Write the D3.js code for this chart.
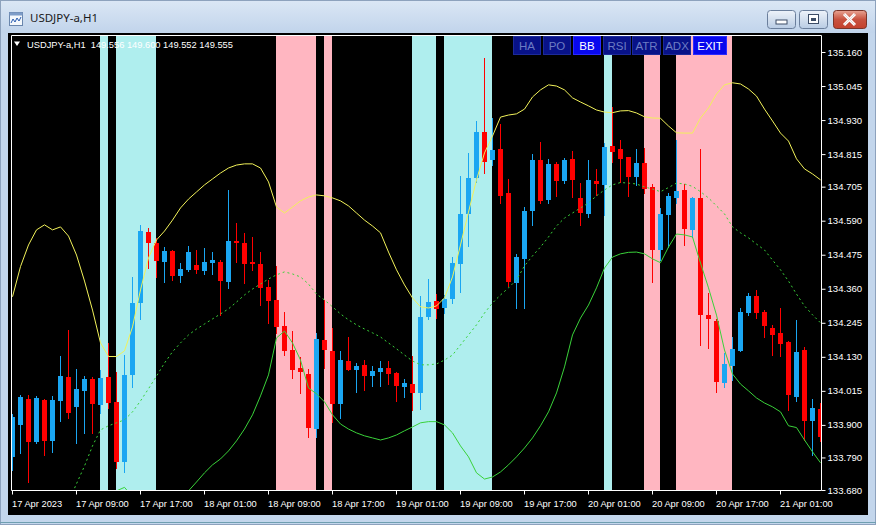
<!DOCTYPE html>
<html><head><meta charset="utf-8">
<script src="https://cdn.jsdelivr.net/npm/d3@7"></script>
<style>html,body{margin:0;padding:0;background:#c3d6ec;overflow:hidden}svg{display:block}</style>
</head><body>
<svg id="c" width="876" height="525"></svg>
<script>
// ---------------- DATA ----------------
const windowTitle = "USDJPY-a,H1";
const headerText = "USDJPY-a,H1  149.556 149.600 149.552 149.555";
const buttonLabels = ["HA","PO","BB","RSI","ATR","ADX","EXIT"];
const activeButtons = ["BB","EXIT"];

const openP = [133.793,133.900,133.988,133.843,133.984,133.847,133.982,134.061,133.960,134.016,
134.055,133.967,134.061,133.979,133.776,134.069,134.313,134.552,134.514,134.452,
134.488,134.403,134.424,134.440,134.420,134.448,134.452,134.384,134.521,134.516,
134.450,134.444,134.365,134.322,134.234,134.153,134.091,134.072,133.885,134.187,
134.150,133.971,134.116,134.086,134.103,134.065,134.078,134.091,134.077,134.027,
134.038,134.009,134.264,134.319,134.294,134.325,134.443,134.613,134.735,134.890,
134.795,134.832,134.683,134.381,134.461,134.623,134.795,134.660,134.782,134.725,
134.799,134.666,134.613,134.724,134.711,134.842,134.832,134.804,134.739,134.784,
134.703,134.491,134.609,134.668,134.694,134.559,134.668,134.271,134.252,134.043,
134.100,134.151,134.279,134.336,134.281,134.227,134.210,134.180,133.995,134.153,
133.914,133.953];
const highP = [133.937,134.001,134.001,133.998,133.988,133.998,134.133,134.221,134.088,134.065,
134.063,134.086,134.178,134.080,134.136,134.401,134.576,134.564,134.531,134.502,
134.491,134.446,134.505,134.491,134.497,134.485,134.457,134.694,134.581,134.548,
134.536,134.485,134.390,134.437,134.283,134.217,134.131,134.088,134.210,134.322,
134.227,134.151,134.198,134.110,134.119,134.099,134.116,134.116,134.080,134.055,
134.133,134.336,134.393,134.342,134.339,134.466,134.741,134.818,134.927,135.139,
134.936,134.916,134.730,134.478,134.637,134.814,134.856,134.799,134.788,134.801,
134.826,134.716,134.795,134.764,134.852,134.975,134.863,134.806,134.832,134.834,
134.714,134.632,134.683,134.863,134.714,134.671,134.832,134.345,134.257,134.144,
134.198,134.294,134.345,134.356,134.288,134.238,134.294,134.183,134.255,134.164,
133.987,133.973];
const lowP = [133.748,133.805,133.708,133.839,133.799,133.809,133.914,133.923,133.840,133.872,
133.872,133.939,133.956,133.754,133.742,134.029,134.257,134.429,134.399,134.384,
134.390,134.384,134.420,134.412,134.410,134.410,134.271,134.362,134.452,134.379,
134.424,134.305,134.245,134.210,134.136,134.058,134.007,133.858,133.858,134.091,
133.911,133.923,134.084,134.012,134.018,134.032,134.033,134.038,133.981,133.995,
133.951,133.954,134.258,134.262,134.279,134.311,134.350,134.506,134.721,134.750,
134.778,134.651,134.369,134.294,134.294,134.576,134.650,134.649,134.675,134.716,
134.671,134.576,134.604,134.677,134.609,134.789,134.722,134.675,134.711,134.683,
134.384,134.457,134.502,134.649,134.508,134.536,134.170,134.159,134.012,134.029,
134.050,134.149,134.271,134.260,134.198,134.136,134.133,133.951,133.982,133.849,
133.799,133.845];
const closeP = [133.928,133.993,133.843,133.990,133.847,133.984,134.065,133.941,134.020,134.055,
133.971,134.058,133.975,133.776,134.069,134.311,134.555,134.514,134.455,134.488,
134.403,134.426,134.484,134.424,134.452,134.457,134.386,134.521,134.514,134.444,
134.443,134.362,134.320,134.232,134.148,134.086,134.080,133.889,134.189,134.153,
133.971,134.119,134.086,134.100,134.065,134.082,134.093,134.072,134.032,134.043,
134.009,134.264,134.316,134.291,134.326,134.446,134.613,134.733,134.890,134.789,
134.829,134.675,134.384,134.466,134.624,134.795,134.657,134.782,134.725,134.795,
134.728,134.617,134.728,134.714,134.840,134.823,134.799,134.739,134.784,134.697,
134.491,134.613,134.674,134.690,134.562,134.668,134.271,134.258,134.046,134.106,
134.157,134.281,134.336,134.279,134.234,134.204,134.174,134.001,134.146,133.914,
133.956,133.860];

const bbUpper = [134.333,134.435,134.508,134.559,134.576,134.559,134.569,134.538,134.474,134.386,
134.288,134.177,134.131,134.131,134.150,134.231,134.356,134.464,134.525,134.555,
134.592,134.633,134.663,134.687,134.711,134.731,134.751,134.768,134.778,134.782,
134.782,134.768,134.721,134.636,134.616,134.636,134.657,134.670,134.677,134.674,
134.667,134.657,134.640,134.616,134.592,134.572,134.549,134.484,134.424,134.373,
134.329,134.299,134.295,134.302,134.329,134.400,134.508,134.619,134.728,134.819,
134.876,134.940,134.947,134.951,134.967,135.008,135.032,135.049,135.045,135.032,
135.005,134.991,134.978,134.964,134.957,134.955,134.961,134.962,134.954,134.941,
134.937,134.936,134.910,134.887,134.886,134.886,134.937,134.971,135.018,135.049,
135.056,135.052,135.035,135.011,134.967,134.927,134.886,134.859,134.799,134.765,
134.748,134.728];
const bbMiddle = [null,null,null,null,null,null,null,133.640,133.701,133.761,
133.829,133.883,133.897,133.907,133.917,133.944,133.981,134.022,134.065,134.109,
134.147,134.177,134.204,134.224,134.241,134.258,134.275,134.292,134.315,134.339,
134.359,134.376,134.393,134.407,134.417,134.410,134.400,134.376,134.342,134.322,
134.299,134.275,134.255,134.238,134.224,134.211,134.197,134.177,134.157,134.136,
134.116,134.103,134.103,134.106,134.119,134.136,134.170,134.204,134.238,134.278,
134.312,134.339,134.363,134.390,134.437,134.471,134.501,134.535,134.572,134.599,
134.616,134.633,134.650,134.674,134.694,134.711,134.719,134.717,134.714,134.704,
134.697,134.688,134.702,134.717,134.714,134.706,134.688,134.667,134.640,134.613,
134.569,134.549,134.532,134.511,134.491,134.457,134.424,134.386,134.342,134.302,
134.272,134.245];
const bbLower = [null,null,null,null,null,null,null,null,null,null,
null,null,133.677,133.677,133.689,133.657,133.606,133.586,133.606,133.647,
133.670,133.667,133.677,133.707,133.738,133.765,133.785,133.812,133.846,133.886,
133.934,133.998,134.069,134.194,134.217,134.177,134.119,134.025,134.005,133.978,
133.934,133.903,133.886,133.873,133.863,133.856,133.849,133.856,133.866,133.880,
133.893,133.907,133.911,133.911,133.900,133.873,133.829,133.792,133.738,133.717,
133.724,133.741,133.765,133.792,133.822,133.856,133.897,133.944,134.008,134.096,
134.204,134.261,134.305,134.363,134.430,134.467,134.478,134.483,134.484,134.478,
134.461,134.448,134.501,134.545,134.542,134.535,134.447,134.363,134.271,134.153,
134.072,134.038,134.015,133.991,133.974,133.961,133.944,133.897,133.891,133.849,
133.809,133.772];

const timeLabels = ["17 Apr 2023","17 Apr 09:00","17 Apr 17:00","18 Apr 01:00","18 Apr 09:00",
"18 Apr 17:00","19 Apr 01:00","19 Apr 09:00","19 Apr 17:00","20 Apr 01:00","20 Apr 09:00",
"20 Apr 17:00","21 Apr 01:00"];
const timeLabelBars = [0,8,16,24,32,40,48,56,64,72,80,88,96];
const priceTicks = [135.160,135.045,134.930,134.815,134.705,134.590,134.475,134.360,134.245,134.130,134.015,133.900,133.790,133.680];

const cyanBands = [[11,12],[13,18],[50,53],[54,60],[74,75]];
const pinkBands = [[33,38],[39,40],[79,81],[83,90]];

// ---------------- DRAW ----------------
const svg = d3.select("#c");
const W = 876, H = 525;
const FONT = "'Liberation Sans', Arial, sans-serif";
const plot = {l:11.5, t:35.5, r:821.5, b:490.5};

const defs = svg.append("defs");
const tg = defs.append("linearGradient").attr("id","tbar").attr("x1",0).attr("y1",0).attr("x2",0).attr("y2",1);
tg.append("stop").attr("offset","0%").attr("stop-color","#dbe7f5");
tg.append("stop").attr("offset","100%").attr("stop-color","#c1d4eb");
const bg1 = defs.append("linearGradient").attr("id","btn").attr("x1",0).attr("y1",0).attr("x2",0).attr("y2",1);
bg1.append("stop").attr("offset","0%").attr("stop-color","#eef3fa");
bg1.append("stop").attr("offset","50%").attr("stop-color","#d3dfee");
bg1.append("stop").attr("offset","100%").attr("stop-color","#b9cce4");
const bg2 = defs.append("linearGradient").attr("id","cls").attr("x1",0).attr("y1",0).attr("x2",0).attr("y2",1);
bg2.append("stop").attr("offset","0%").attr("stop-color","#e8a493");
bg2.append("stop").attr("offset","50%").attr("stop-color","#c8523f");
bg2.append("stop").attr("offset","100%").attr("stop-color","#c4412c");
defs.append("clipPath").attr("id","plotclip").append("rect")
  .attr("x",plot.l+0.5).attr("y",plot.t+0.5).attr("width",plot.r-plot.l-1).attr("height",plot.b-plot.t-1);

// window frame
svg.append("rect").attr("width",W).attr("height",H).attr("fill","#c3d6ec");
svg.append("rect").attr("width",W).attr("height",33).attr("fill","url(#tbar)");
svg.append("rect").attr("x",0.5).attr("y",0.5).attr("width",W-1).attr("height",H-1).attr("fill","none").attr("stroke","#8da2bd");
svg.append("line").attr("x1",0).attr("x2",W).attr("y1",522.5).attr("y2",522.5).attr("stroke","#6f9fb0");

// title icon
const ic = svg.append("g").attr("transform","translate(9,12)");
ic.append("rect").attr("x",0.5).attr("y",0.5).attr("width",13).attr("height",13).attr("fill","#f4f8fc").attr("stroke","#6a86ad");
ic.append("rect").attr("x",0.5).attr("y",0.5).attr("width",13).attr("height",3).attr("fill","#7d9cc8");
ic.append("path").attr("d","M2,11 L4,7 L6,10 L8,6 L10,9 L12,5").attr("fill","none").attr("stroke","#2a5cb0").attr("stroke-width",1);
svg.append("text").attr("x",30).attr("y",22).attr("font-family","'Noto Sans', "+FONT).attr("font-size",11.5)
  .attr("fill","#1b1b1b").text(windowTitle);

// caption buttons
function capBtn(x, w, fill){
  return svg.append("rect").attr("x",x+0.5).attr("y",10.5).attr("width",w).attr("height",18).attr("rx",3)
    .attr("fill",fill).attr("stroke","#6b7f9c");
}
capBtn(767,28,"url(#btn)");
svg.append("rect").attr("x",776).attr("y",20).attr("width",11).attr("height",4).attr("fill","#fff").attr("stroke","#3c4c66");
capBtn(799,28,"url(#btn)");
svg.append("rect").attr("x",808.5).attr("y",14.5).attr("width",10).attr("height",9).attr("fill","#fff").attr("stroke","#3c4c66");
svg.append("rect").attr("x",811).attr("y",18).attr("width",5).attr("height",3).attr("fill","#3c4c66");
capBtn(833,33,"url(#cls)").attr("stroke","#7a3428");
svg.append("path").attr("d","M844,14 L855,25 M855,14 L844,25").attr("stroke","#ffffff").attr("stroke-width",3);
svg.append("path").attr("d","M844,14 L855,25 M855,14 L844,25").attr("stroke","#5a2018").attr("stroke-width",0.6).attr("opacity",0.3);

// chart panel
svg.append("rect").attr("x",8).attr("y",33).attr("width",860).attr("height",482).attr("fill","#000");

const x = d3.scaleLinear().domain([0, openP.length-1]).range([12, 820]);
const y = d3.scaleLinear().domain([133.680, 135.160]).range([490, 52]);
const px = i => Math.round(x(i));

const pg = svg.append("g").attr("clip-path","url(#plotclip)");
// bands
const bandTop = plot.t, bandH = plot.b - plot.t;
pg.selectAll("rect.cy").data(cyanBands).join("rect").attr("class","cy")
  .attr("x",d=>px(d[0])).attr("width",d=>px(d[1])-px(d[0])).attr("y",bandTop).attr("height",bandH).attr("fill","#afeeee");
pg.selectAll("rect.pk").data(pinkBands).join("rect").attr("class","pk")
  .attr("x",d=>px(d[0])).attr("width",d=>px(d[1])-px(d[0])).attr("y",bandTop).attr("height",bandH).attr("fill","#ffb6c1");

// candles
const BLUE = "#1aa6f2", RED = "#ff0000";
const idx = d3.range(openP.length);
const cg = pg.append("g");
cg.selectAll("line.w").data(idx).join("line").attr("class","w")
  .attr("x1",i=>px(i)+0.5).attr("x2",i=>px(i)+0.5)
  .attr("y1",i=>Math.round(y(highP[i]))).attr("y2",i=>Math.round(y(lowP[i]))+1)
  .attr("stroke",i=>closeP[i]>=openP[i]?BLUE:RED).attr("stroke-width",1);
cg.selectAll("rect.b").data(idx).join("rect").attr("class","b")
  .attr("x",i=>px(i)-2).attr("width",5)
  .attr("y",i=>Math.round(y(Math.max(openP[i],closeP[i]))))
  .attr("height",i=>Math.max(1, Math.round(y(Math.min(openP[i],closeP[i]))) - Math.round(y(Math.max(openP[i],closeP[i])))))
  .attr("fill",i=>closeP[i]>=openP[i]?BLUE:RED);

// bollinger lines
function bbLine(arr){
  return d3.line().defined(i=>arr[i]!=null).x(i=>px(i)+0.5).y(i=>y(arr[i]))(idx);
}
pg.append("path").attr("d",bbLine(bbUpper)).attr("fill","none").attr("stroke","#f2f25a").attr("stroke-width",1);
pg.append("path").attr("d",bbLine(bbMiddle)).attr("fill","none").attr("stroke","#3ad23a").attr("stroke-width",1).attr("stroke-dasharray","2,3");
pg.append("path").attr("d",bbLine(bbLower)).attr("fill","none").attr("stroke","#3ad23a").attr("stroke-width",1);

// plot frame
svg.append("path").attr("d",`M${plot.l},${plot.b} V${plot.t} H${plot.r} V${plot.b} H${plot.l}`)
  .attr("fill","none").attr("stroke","#ffffff").attr("stroke-width",1);

// right price axis
const ya = d3.axisRight(y).tickValues(priceTicks).tickFormat(d3.format(".3f")).tickSize(4).tickPadding(2);
const yg = svg.append("g").attr("transform",`translate(${plot.r},0)`).call(ya);
yg.select(".domain").remove();
yg.selectAll(".tick line").attr("stroke","#fff");
yg.selectAll(".tick text").attr("fill","#fff").attr("font-family",FONT).attr("font-size",9.6);

// bottom time axis
const xa = d3.axisBottom(x).tickValues(timeLabelBars).tickFormat((d,i)=>timeLabels[i]).tickSize(4);
const xg = svg.append("g").attr("transform",`translate(0.5,${plot.b})`).call(xa);
xg.select(".domain").remove();
xg.selectAll(".tick").attr("transform",d=>`translate(${px(d)},0)`);
xg.selectAll(".tick line").attr("stroke","#fff");
xg.selectAll(".tick text").attr("fill","#fff").attr("font-family",FONT).attr("font-size",9.3)
  .attr("text-anchor","start").attr("x",-0.5).attr("y",16).attr("dy",0);

// header text
svg.append("path").attr("d","M14,41.5 L20,41.5 L17,46 Z").attr("fill","#fff");
svg.append("text").attr("x",27).attr("y",47.5).attr("fill","#fff").attr("font-family",FONT).attr("font-size",9.3)
  .style("white-space","pre").text(headerText);

// control buttons
const btnX = [513,543,573,603,632,663,693], btnW = [28,28,28,28,29,28,34];
const bgG = svg.append("g");
buttonLabels.forEach((lab,k)=>{
  const on = activeButtons.includes(lab);
  bgG.append("rect").attr("x",btnX[k]+0.5).attr("y",36.5).attr("width",btnW[k]-1).attr("height",18)
    .attr("fill",on?"#0808ee":"#081288").attr("stroke",on?"#2a2aff":"#1c2a9a");
  bgG.append("text").attr("x",btnX[k]+btnW[k]/2).attr("y",50).attr("text-anchor","middle")
    .attr("font-family",FONT).attr("font-size",11.5).attr("fill",on?"#ffffff":"#6c7cc4").text(lab);
});
</script>
</body></html>
